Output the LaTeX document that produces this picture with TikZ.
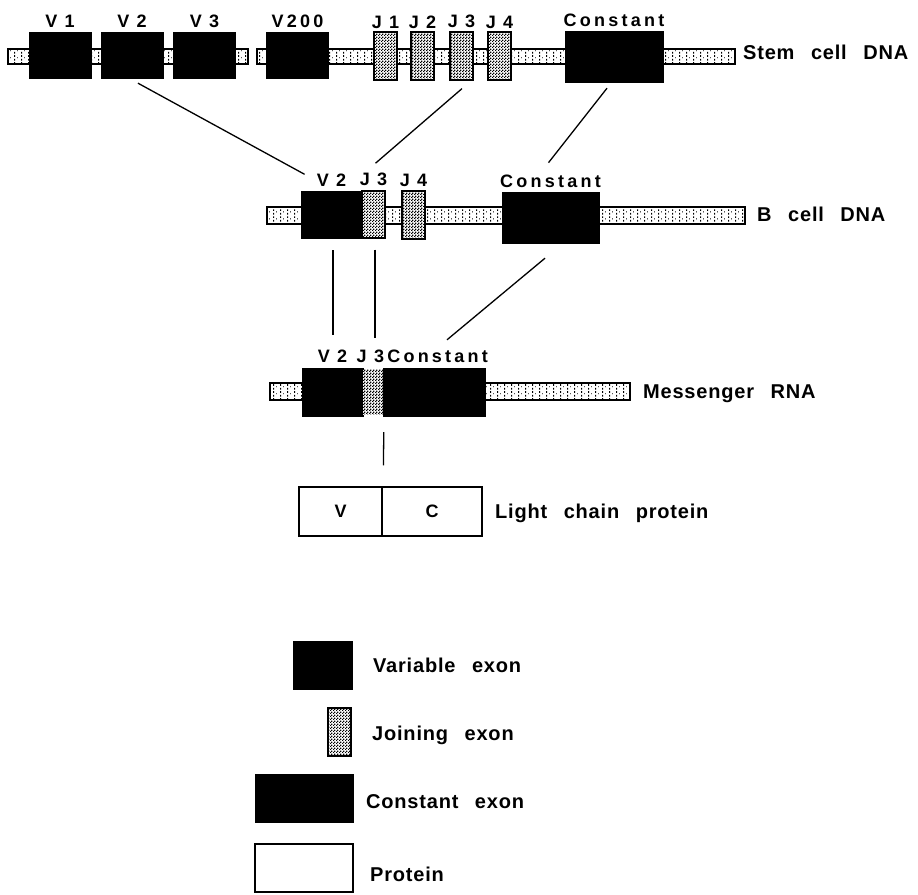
\documentclass[tikz,border=0pt]{standalone}
\usepackage{fontspec}
\setmainfont{Liberation Sans}[LetterSpace=4, WordSpace=2.6]
\newfontfamily\tagfont{Liberation Sans}[LetterSpace=18, WordSpace=0.9]
\usetikzlibrary{positioning,patterns.meta}

\tikzdeclarepattern{
  name=dnadots,
  type=uncolored,
  bounding box={(0pt,0pt) and (7pt,7pt)},
  tile size={(7pt,7pt)},
  code={
    \fill (0pt,0.5pt) rectangle (1.4pt,2.3pt);
    \fill (0pt,4.5pt) rectangle (1.4pt,6.3pt);
    \fill (3.5pt,3pt) rectangle (4.5pt,4pt);
  }
}
\tikzdeclarepattern{
  name=joindots,
  type=uncolored,
  bounding box={(0pt,0pt) and (3pt,3pt)},
  tile size={(3pt,3pt)},
  code={
    \fill (0pt,0pt) rectangle (1.6pt,1.6pt);
    \fill (1.5pt,1.5pt) rectangle (3pt,3pt);
  }
}

\begin{document}
\begin{tikzpicture}[
  x=1pt, y=-1pt,
  strand/.style={draw, line width=1.2pt, pattern=dnadots, preaction={fill=white},
    minimum height=15, inner sep=0},
  vexon/.style={draw, fill=black, minimum width=62, minimum height=46, inner sep=0},
  jexon/.style={draw, line width=1.2pt, pattern=joindots, preaction={fill=white},
    minimum width=23, minimum height=48, inner sep=0},
  cexon/.style={draw, fill=black, minimum width=98, minimum height=51, inner sep=0},
  protbox/.style={draw, line width=1.2pt, minimum height=49, inner sep=0,
    font=\bfseries\fontsize{18}{18}\selectfont},
  lbltext/.style={font={\tagfont\bfseries\fontsize{18}{18}\selectfont}, inner sep=0},
  rowtext/.style={font=\bfseries\fontsize{20}{22}\selectfont, anchor=base west, inner sep=0},
  link/.style={line width=1.3pt}
]
\useasboundingbox (0,0) rectangle (918,894);

\node[strand, minimum width=240] (s-left) at (128,56.5) {};
\node[strand, minimum width=478] (s-right) at (496,56.5) {};
\node[vexon] (s-v1) at (60,55) {};
\node[vexon] (s-v2) at (132,55) {};
\node[vexon] (s-v3) at (204.5,55) {};
\node[vexon] (s-v200) at (297.5,55) {};
\node[jexon] (s-j1) at (385.5,56) {};
\node[jexon] (s-j2) at (422.5,56) {};
\node[jexon] (s-j3) at (461.5,56) {};
\node[jexon] (s-j4) at (499.5,56) {};
\node[cexon] (s-c) at (614,56.5) {};
\node[lbltext, above=4pt of s-v1] (s-lv1) {V 1};
\node[lbltext, above=4pt of s-v2] (s-lv2) {V 2};
\node[lbltext, above=4pt of s-v3] (s-lv3) {V 3};
\node[lbltext, above=4pt of s-v200] (s-lv200) {V200};
\node[lbltext, above=3pt of s-j1] (s-lj1) {J 1};
\node[lbltext, above=3pt of s-j2] (s-lj2) {J 2};
\node[lbltext, above=3pt of s-j3] (s-lj3) {J 3};
\node[lbltext, above=3pt of s-j4] (s-lj4) {J 4};
\node[lbltext, above=4pt of s-c] (s-lc) {Constant};
\node[rowtext] (s-name) at (743,59) {Stem cell DNA};

\node[strand, minimum width=478, minimum height=17] (b-strand) at (506,215.5) {};
\node[vexon, minimum width=61, minimum height=47] (b-v2) at (331.5,214.5) {};
\node[jexon, minimum height=47] (b-j3) at (373.5,214.5) {};
\node[jexon] (b-j4) at (413.5,215) {};
\node[cexon, minimum width=97] (b-c) at (550.5,217.5) {};
\node[lbltext, above=4pt of b-v2] (b-lv2) {V 2};
\node[lbltext, above=4pt of b-j3] (b-lj3) {J 3};
\node[lbltext, above=4pt of b-j4] (b-lj4) {J 4};
\node[lbltext, above=4pt of b-c] (b-lc) {Constant};
\node[rowtext] (b-name) at (757,221) {B cell DNA};

\node[strand, minimum width=360, minimum height=17] (m-strand) at (450,391.5) {};
\node[vexon, minimum width=61, minimum height=48] (m-v2) at (332.5,392) {};
\node[vexon, minimum width=102, minimum height=48] (m-c) at (434,392) {};
\node[jexon, draw=none, minimum width=20, minimum height=45] (m-j3) at (373,392) {};
\node[lbltext, above=5pt of m-v2] (m-lv2) {V 2};
\node[lbltext, anchor=south west] (m-ljc) at ([xshift=-6pt,yshift=5pt]m-j3.west |- m-v2.north) {J 3Constant};
\node[rowtext] (m-name) at (643,398) {Messenger RNA};

\node[protbox, minimum width=83] (p-v) at (340.5,511.5) {V};
\node[protbox, minimum width=100] (p-c) at (432,511.5) {C};
\node[rowtext] (p-name) at (495,518) {Light chain protein};

\node[vexon, minimum width=59, minimum height=48] (k-v) at (322.5,665) {};
\node[rowtext] (k-vt) at (373,672) {Variable exon};
\node[jexon] (k-j) at (339.5,732) {};
\node[rowtext] (k-jt) at (372,740) {Joining exon};
\node[cexon, minimum height=48] (k-c) at (304,798) {};
\node[rowtext] (k-ct) at (366,808) {Constant exon};
\node[protbox, minimum width=98, minimum height=48] (k-p) at (304,868) {};
\node[rowtext] (k-pt) at (370,881) {Protein};

\draw[link] ([xshift=6pt,yshift=-5pt]s-v2.south) -- ([xshift=-12pt,yshift=6pt]b-lv2.west);
\draw[link] ([xshift=0.5pt,yshift=-8pt]s-j3.south) -- ([xshift=2pt,yshift=10pt]b-lj3.north);
\draw[link] ([xshift=-7pt,yshift=-6pt]s-c.south) -- ([xshift=-2pt,yshift=12pt]b-lc.north);
\draw[link] ([xshift=1.5pt,yshift=-12pt]b-v2.south) -- ([xshift=1.5pt,yshift=15pt]m-lv2.north -| b-v2.south);
\draw[link] ([xshift=1.5pt,yshift=-11pt]b-j3.south) -- ([xshift=1.5pt,yshift=31pt]m-j3.north -| b-j3.south);
\draw[link] ([xshift=-5.5pt,yshift=-15pt]b-c.south) -- ([xshift=13pt,yshift=28pt]m-c.north);
\draw[link] ([xshift=1pt,yshift=-16pt]m-c.south west) -- ([xshift=2pt,yshift=21pt]p-c.north west);
\end{tikzpicture}
\end{document}
